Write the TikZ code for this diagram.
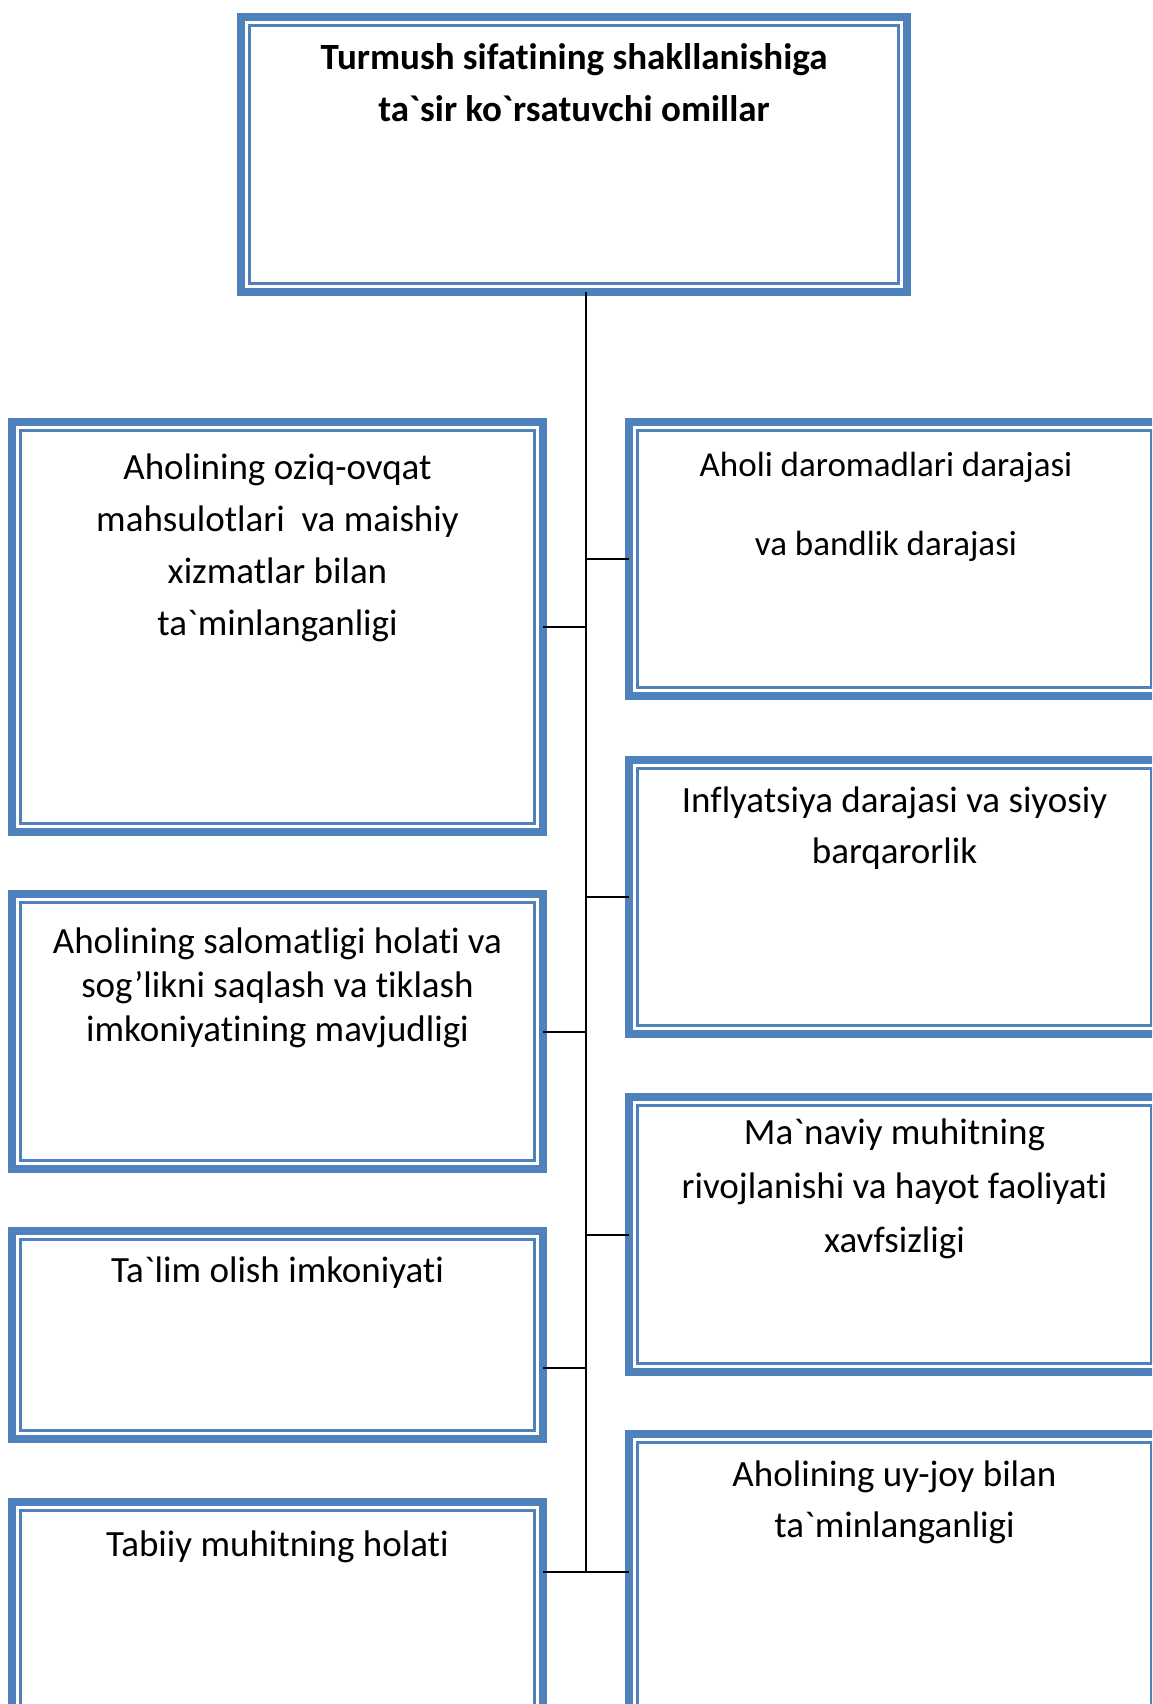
\documentclass[tikz,border=0pt]{standalone}
\usepackage{fontspec}
\setmainfont{Carlito}[Ligatures={TeXOff,NoCommon}]
\usetikzlibrary{positioning}
\definecolor{boxblue}{RGB}{79,129,189}
\begin{document}
\begin{tikzpicture}[x=1pt,y=-1pt,line join=miter]
	\tikzset{box/.style={draw=boxblue,line width=8pt,minimum width=531pt,anchor=north west,inner sep=0pt,outer sep=0pt},
		inline/.style={draw=boxblue,line width=2.5pt},
		txt/.style={align=center,anchor=base,inner sep=0pt,font=\fontsize{37}{#1}\selectfont},
		title/.style={txt,font=\fontsize{37}{52}\selectfont\bfseries},
		link/.style={draw=black,line width=2pt}}
	\useasboundingbox (0,0) rectangle (1152,1704);
	\clip (0,0) rectangle (1152,1704);
	\node[box,minimum width=666pt,minimum height=275pt] (top) at (241,17) {};
	\node[box,minimum height=410pt] (L1) at (12,422) {};
	\node[box,minimum height=275pt] (L2) at (12,894) {};
	\node[box,minimum height=208pt] (L3) at (12,1231) {};
	\node[box,minimum height=300pt] (L4) at (12,1502) {};
	\node[box,minimum height=274pt] (R1) at (629,422) {};
	\node[box,minimum height=274pt] (R2) at (629,760) {};
	\node[box,minimum height=275pt] (R3) at (629,1097) {};
	\node[box,minimum height=320pt] (R4) at (629,1434) {};
	\foreach \b in {top,L1,L2,L3,L4,R1,R2,R3,R4}
		\draw[inline] ([shift={(8.5pt,-8.5pt)}]\b.north west) rectangle ([shift={(-8.5pt,8.5pt)}]\b.south east);
	\node[title] (ttop) at (574,122) {Turmush sifatining shakllanishiga\\ ta`sir ko`rsatuvchi omillar};
	\node[txt=52] (tL1) at (277.5,635) {Aholining oziq-ovqat\\ mahsulotlari~ va maishiy\\ xizmatlar bilan\\ ta`minlanganligi};
	\node[txt=44] (tL2) at (277.5,1041) {Aholining salomatligi holati va\\ sog’likni saqlash va tiklash\\ imkoniyatining mavjudligi};
	\node[txt=44] (tL3) at (277.5,1282) {Ta`lim olish imkoniyati};
	\node[txt=44] (tL4) at (277.5,1556) {Tabiiy muhitning holati};
	\node[txt=79,font=\fontsize{35}{79}\selectfont] (tR1) at (886,555) {Aholi daromadlari darajasi\\ va bandlik darajasi};
	\node[txt=51] (tR2) at (894.5,863) {Inflyatsiya darajasi va siyosiy\\ barqarorlik};
	\node[txt=54] (tR3) at (894.5,1252) {Ma`naviy muhitning\\ rivojlanishi va hayot faoliyati\\ xavfsizligi};
	\node[txt=51] (tR4) at (894.5,1537) {Aholining uy-joy bilan\\ ta`minlanganligi};
	\coordinate (spine) at (586,1572);
	\draw[link] (top.south -| spine) -- (spine);
	\draw[link] (R1.west) -- (R1.west -| spine);
	\draw[link] (L1.east) -- (L1.east -| spine);
	\draw[link] (R2.west) -- (R2.west -| spine);
	\draw[link] (L2.east) -- (L2.east -| spine);
	\draw[link] (R3.west) -- (R3.west -| spine);
	\draw[link] ([yshift=-33pt]L3.east) -- ([yshift=-33pt]L3.east -| spine);
	\draw[link] (L4.east |- spine) -- (R4.west |- spine);
\end{tikzpicture}
\end{document}
